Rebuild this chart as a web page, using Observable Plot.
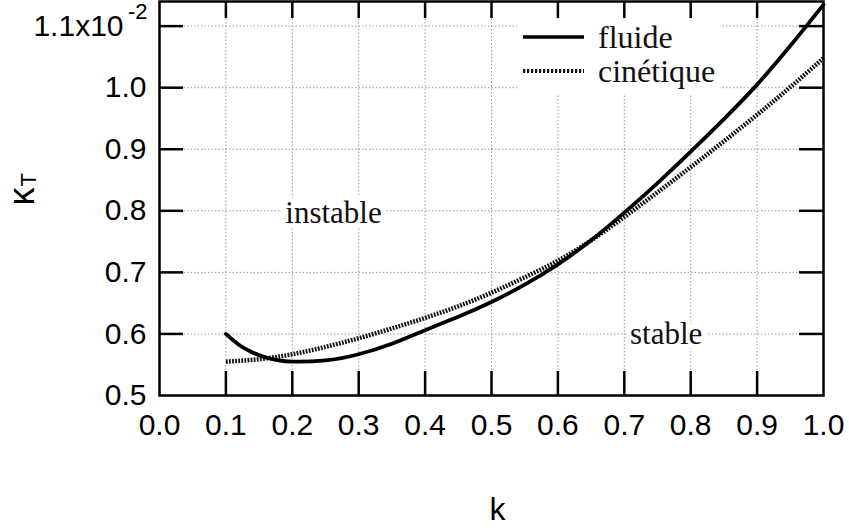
<!DOCTYPE html>
<html>
<head>
<meta charset="utf-8">
<script src="https://cdn.jsdelivr.net/npm/d3@7"></script>
<script src="https://cdn.jsdelivr.net/npm/@observablehq/plot@0.6"></script>
<style>
  html, body { margin: 0; padding: 0; background: white; }
  #chart { width: 849px; height: 530px; }
</style>
</head>
<body>
<div id="chart"></div>
<script>
// ---- data ----
const kFluide = [0.10, 0.12, 0.14, 0.16, 0.18, 0.20, 0.25, 0.30, 0.35, 0.40, 0.45, 0.50, 0.55, 0.60, 0.65, 0.70, 0.75, 0.80, 0.85, 0.90, 0.95, 1.00];
const vFluide = [0.600, 0.582, 0.570, 0.562, 0.557, 0.555, 0.557, 0.567, 0.584, 0.606, 0.628, 0.652, 0.680, 0.713, 0.752, 0.797, 0.845, 0.896, 0.949, 1.005, 1.068, 1.135];

const kCinetique = [0.10, 0.15, 0.20, 0.25, 0.30, 0.35, 0.40, 0.45, 0.50, 0.55, 0.60, 0.65, 0.70, 0.75, 0.80, 0.85, 0.90, 0.95, 1.00];
const vCinetique = [0.555, 0.559, 0.567, 0.579, 0.593, 0.609, 0.626, 0.645, 0.667, 0.692, 0.719, 0.752, 0.790, 0.830, 0.871, 0.913, 0.956, 1.001, 1.048];

const seriesNames = ["fluide", "cinétique"];

const xTickValues = [0.0, 0.1, 0.2, 0.3, 0.4, 0.5, 0.6, 0.7, 0.8, 0.9, 1.0];
const xInnerTicks = [0.1, 0.2, 0.3, 0.4, 0.5, 0.6, 0.7, 0.8, 0.9];
const yTickValues = [0.5, 0.6, 0.7, 0.8, 0.9, 1.0];
const yTopTick = [1.1];
const yInnerTicks = [0.6, 0.7, 0.8, 0.9, 1.0, 1.1];
const yTopLabel = "1.1x10";
const yTopExponent = "-2";

const xLabel = ["k"];
const yLabelMain = ["κ"];
const yLabelSub = ["T"];

const annotText = ["instable", "stable"];
const annotK = [0.262, 0.763];
const annotV = [0.797, 0.600];

// ---- build tables ----
const fluide = kFluide.map((k, i) => ({k, v: vFluide[i]}));
const cinetique = kCinetique.map((k, i) => ({k, v: vCinetique[i]}));

const W = 849, H = 530;
const mL = 159, mR = 26, mT = 1, mB = 135;
const plotW = W - mL - mR, plotH = H - mT - mB;

const sans = "'Liberation Sans', Arial, Helvetica, sans-serif";
const serif = "'Liberation Serif', 'Times New Roman', serif";
const dotted = "1.8,1.3";

function legendMark(index, scales, values, dims) {
  const right = dims.width - dims.marginRight;
  const top = dims.marginTop;
  const g = d3.create("svg:g");
  g.append("rect")
    .attr("x", right - 306).attr("y", top + 18)
    .attr("width", 203).attr("height", 76)
    .attr("fill", "white");
  seriesNames.forEach((name, i) => {
    const y = top + 36 + i * 34;
    g.append("line")
      .attr("x1", right - 300).attr("x2", right - 239)
      .attr("y1", y).attr("y2", y)
      .attr("stroke", i === 0 ? "#000" : "#111")
      .attr("stroke-width", i === 0 ? 3.5 : 4)
      .attr("stroke-linecap", "butt")
      .attr("stroke-dasharray", i === 0 ? null : "2.2,1.8");
    g.append("text")
      .attr("x", right - 225).attr("y", y).attr("dy", "0.33em")
      .attr("text-anchor", "start")
      .attr("font-family", serif).attr("font-size", 32)
      .attr("fill", "#111")
      .text(name);
  });
  return g.node();
}

const chart = Plot.plot({
  width: W,
  height: H,
  marginLeft: mL,
  marginRight: mR,
  marginTop: mT,
  marginBottom: mB,
  x: {domain: [0, 1]},
  y: {domain: [0.5, 1.14]},
  style: {fontFamily: sans, background: "white", color: "black", overflow: "visible"},
  marks: [
    Plot.gridX(xInnerTicks, {stroke: "#999", strokeOpacity: 1, strokeWidth: 1, strokeDasharray: "1.5,2"}),
    Plot.gridY(yInnerTicks, {stroke: "#999", strokeOpacity: 1, strokeWidth: 1, strokeDasharray: "1.5,2"}),
    // inward ticks on all four sides
    Plot.ruleX(xInnerTicks, {x: d => d, insetTop: plotH - 24, stroke: "black", strokeWidth: 2.5}),
    Plot.ruleX(xInnerTicks, {x: d => d, insetBottom: plotH - 17, stroke: "black", strokeWidth: 2.5}),
    Plot.ruleY(yInnerTicks, {y: d => d, insetRight: plotW - 24, stroke: "black", strokeWidth: 2.5}),
    Plot.ruleY(yInnerTicks, {y: d => d, insetLeft: plotW - 24, stroke: "black", strokeWidth: 2.5}),
    // tick labels
    Plot.axisX(xTickValues, {tickSize: 0, tickPadding: 18, fontSize: 30, fontFamily: sans, tickFormat: d3.format(".1f"), label: null}),
    Plot.axisY(yTickValues, {tickSize: 0, tickPadding: 13, fontSize: 30, fontFamily: sans, tickFormat: d3.format(".1f"), label: null}),
    Plot.axisY(yTopTick, {tickSize: 0, tickPadding: 36, fontSize: 30, fontFamily: sans, tickFormat: () => yTopLabel, label: null}),
    Plot.text(yTopTick, {y: d => d, frameAnchor: "left", dx: -12, dy: -14, text: () => yTopExponent, textAnchor: "end", fontSize: 22, fontFamily: sans}),
    // axis titles
    Plot.text(xLabel, {frameAnchor: "bottom", dx: 6, dy: 124, fontSize: 32, fontFamily: sans}),
    Plot.text(yLabelMain, {frameAnchor: "left", dx: -137, dy: 7, rotate: -90, fontSize: 36, fontFamily: sans}),
    Plot.text(yLabelSub, {frameAnchor: "left", dx: -131, dy: -12, rotate: -90, fontSize: 22, fontFamily: sans}),
    // annotations
    Plot.text(annotText, {x: (d, i) => annotK[i], y: (d, i) => annotV[i], text: d => d, fontFamily: serif, fontSize: 31, fill: "#111", stroke: "white", strokeWidth: 10}),
    // legend
    legendMark,
    // curves
    Plot.line(cinetique, {x: "k", y: "v", curve: "natural", stroke: "#111", strokeWidth: 4.5, strokeDasharray: dotted, strokeLinecap: "butt"}),
    Plot.line(fluide, {x: "k", y: "v", curve: "natural", stroke: "#000", strokeWidth: 3.8}),
    Plot.frame({stroke: "black", strokeWidth: 2.5})
  ]
});

document.getElementById("chart").append(chart);
</script>
</body>
</html>
